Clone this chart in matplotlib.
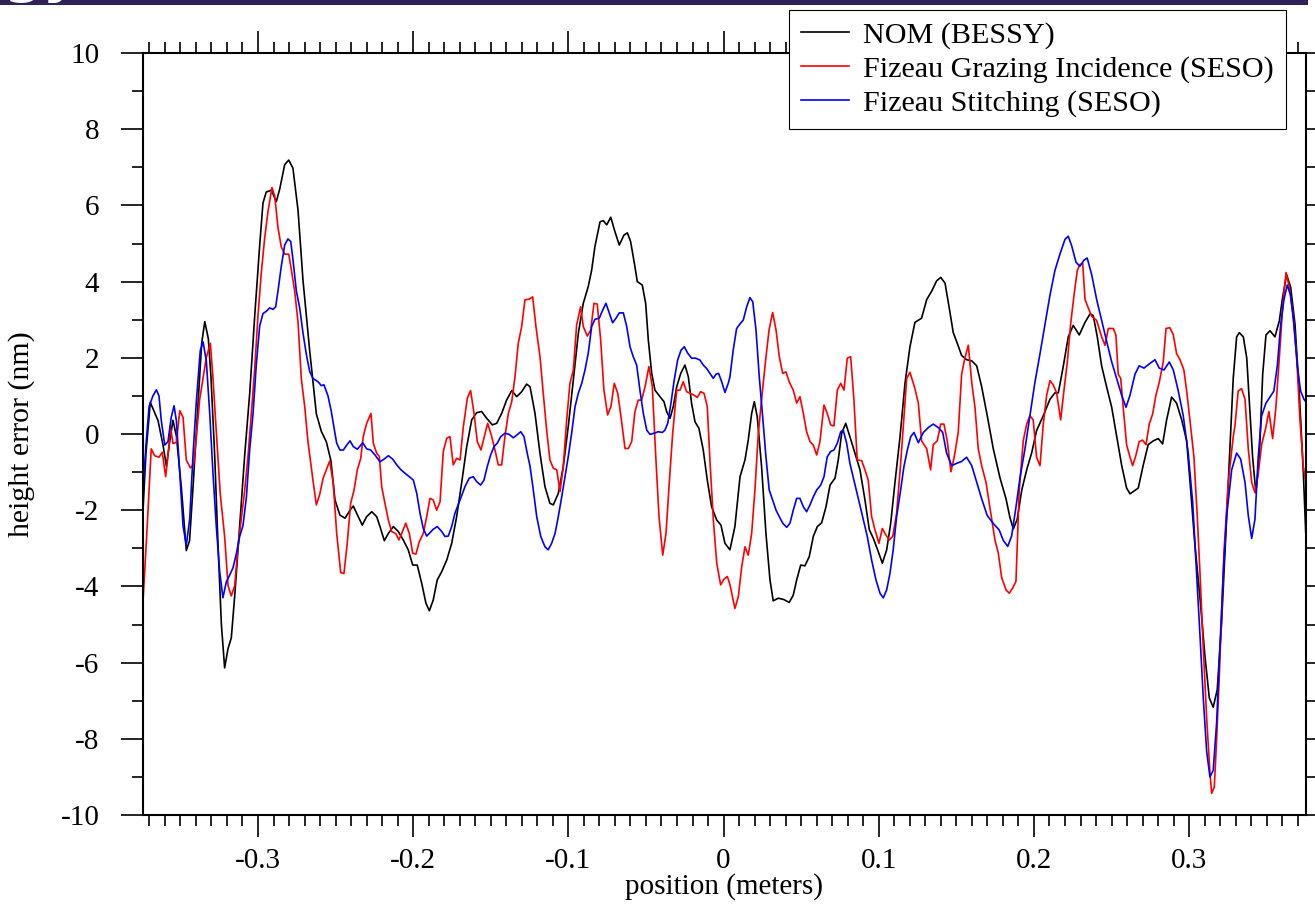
import matplotlib
matplotlib.use("Agg")
import matplotlib.pyplot as plt
from matplotlib.ticker import MultipleLocator, FuncFormatter
from matplotlib.patches import Rectangle

plt.rcParams['font.family'] = ['Liberation Serif', 'DejaVu Serif']
plt.rcParams['axes.unicode_minus'] = False

# NOM (BESSY) height profile
nom_x = [-0.3741, -0.3722, -0.3694, -0.3644, -0.3612, -0.3590, -0.3569, -0.3548, -0.3526, -0.3494,
         -0.3462, -0.3441, -0.3417, -0.3385, -0.3363, -0.3343, -0.3320, -0.3303, -0.3279, -0.3258,
         -0.3236, -0.3215, -0.3193, -0.3172, -0.3150, -0.3118, -0.3086, -0.3053, -0.3021, -0.2989,
         -0.2968, -0.2947, -0.2914, -0.2882, -0.2860, -0.2828, -0.2802, -0.2775, -0.2742, -0.2710,
         -0.2667, -0.2624, -0.2592, -0.2560, -0.2530, -0.2504, -0.2472, -0.2439, -0.2407, -0.2386,
         -0.2354, -0.2328, -0.2300, -0.2267, -0.2235, -0.2214, -0.2186, -0.2160, -0.2128, -0.2096,
         -0.2064, -0.2032, -0.2003, -0.1974, -0.1945, -0.1918, -0.1896, -0.1871, -0.1845, -0.1816,
         -0.1784, -0.1752, -0.1720, -0.1688, -0.1655, -0.1623, -0.1591, -0.1559, -0.1526, -0.1490,
         -0.1462, -0.1430, -0.1398, -0.1365, -0.1333, -0.1301, -0.1269, -0.1247, -0.1215, -0.1183,
         -0.1151, -0.1119, -0.1097, -0.1065, -0.1033, -0.1001, -0.0968, -0.0936, -0.0904, -0.0872,
         -0.0850, -0.0829, -0.0796, -0.0775, -0.0753, -0.0727, -0.0700, -0.0672, -0.0642, -0.0620,
         -0.0599, -0.0571, -0.0556, -0.0524, -0.0502, -0.0485, -0.0463, -0.0442, -0.0410, -0.0384,
         -0.0367, -0.0345, -0.0324, -0.0302, -0.0276, -0.0249, -0.0227, -0.0206, -0.0184, -0.0159,
         -0.0131, -0.0105, -0.0077, -0.0044, -0.0017, 0.0009, 0.0041, 0.0073, 0.0106, 0.0138,
         0.0159, 0.0181, 0.0198, 0.0217, 0.0245, 0.0273, 0.0299, 0.0320, 0.0352, 0.0385,
         0.0423, 0.0449, 0.0471, 0.0497, 0.0524, 0.0552, 0.0578, 0.0604, 0.0632, 0.0660,
         0.0686, 0.0718, 0.0739, 0.0761, 0.0787, 0.0814, 0.0847, 0.0879, 0.0911, 0.0939,
         0.0965, 0.0997, 0.1023, 0.1051, 0.1077, 0.1104, 0.1137, 0.1169, 0.1201, 0.1233,
         0.1276, 0.1309, 0.1341, 0.1373, 0.1399, 0.1427, 0.1454, 0.1480, 0.1506, 0.1534,
         0.1566, 0.1599, 0.1631, 0.1663, 0.1699, 0.1738, 0.1781, 0.1820, 0.1845, 0.1867,
         0.1892, 0.1921, 0.1953, 0.1985, 0.2017, 0.2060, 0.2103, 0.2135, 0.2157, 0.2189,
         0.2221, 0.2253, 0.2292, 0.2329, 0.2361, 0.2382, 0.2408, 0.2436, 0.2468, 0.2501,
         0.2533, 0.2565, 0.2597, 0.2619, 0.2651, 0.2672, 0.2704, 0.2736, 0.2769, 0.2801,
         0.2829, 0.2855, 0.2887, 0.2919, 0.2952, 0.2984, 0.3010, 0.3037, 0.3070, 0.3102,
         0.3130, 0.3155, 0.3181, 0.3209, 0.3237, 0.3263, 0.3284, 0.3306, 0.3323, 0.3349,
         0.3371, 0.3387, 0.3409, 0.3430, 0.3452, 0.3474, 0.3495, 0.3521, 0.3553, 0.3581,
         0.3602, 0.3628, 0.3654, 0.3682, 0.3709, 0.3735, 0.3751]
nom_h = [-2.00, -0.50, 0.83, 0.35, -0.29, -0.85, -0.20, 0.36, -0.05, -1.40,
         -3.06, -2.80, -1.29, 0.89, 2.38, 2.95, 2.50, 1.50, -0.57, -2.87,
         -4.99, -6.14, -5.63, -5.35, -4.25, -2.41, -0.57, 1.09, 3.11, 4.96,
         6.06, 6.35, 6.40, 6.10, 6.43, 7.07, 7.19, 6.98, 5.87, 4.03,
         2.19, 0.53, 0.07, -0.20, -0.70, -1.73, -2.13, -2.21, -2.00, -1.89,
         -2.17, -2.39, -2.17, -2.04, -2.17, -2.43, -2.80, -2.61, -2.43, -2.56,
         -2.78, -3.04, -3.44, -3.44, -3.92, -4.44, -4.64, -4.36, -3.83, -3.61,
         -3.31, -2.87, -2.17, -1.29, -0.33, 0.37, 0.56, 0.59, 0.41, 0.24,
         0.28, 0.54, 0.89, 1.14, 0.98, 1.11, 1.31, 1.24, 0.54, -0.51,
         -1.38, -1.82, -1.86, -1.56, -0.86, 0.19, 1.42, 2.64, 3.43, 3.87,
         4.30, 4.92, 5.57, 5.60, 5.49, 5.69, 5.31, 4.96, 5.22, 5.28,
         5.05, 4.39, 4.00, 3.91, 3.43, 2.47, 1.59, 1.15, 0.98, 0.85,
         0.59, 0.41, 0.72, 1.24, 1.59, 1.81, 1.50, 0.80, 0.32, 0.15,
         -0.42, -1.21, -1.91, -2.26, -2.39, -2.87, -3.04, -2.43, -1.12, -0.68,
         -0.16, 0.54, 0.85, 0.45, -0.86, -2.61, -3.83, -4.38, -4.31, -4.34,
         -4.42, -4.23, -3.83, -3.44, -3.46, -3.22, -2.69, -2.43, -2.33, -1.91,
         -1.34, -1.16, -0.68, 0.02, 0.28, -0.07, -0.51, -0.94, -1.73, -2.51,
         -2.74, -3.09, -3.39, -3.04, -2.34, -1.29, -0.07, 1.33, 2.29, 2.93,
         3.04, 3.53, 3.75, 4.02, 4.11, 3.96, 3.31, 2.66, 2.38, 2.06,
         1.95, 1.92, 1.79, 1.24, 0.48, -0.39, -1.15, -1.70, -2.19, -2.49,
         -2.24, -1.48, -0.94, -0.50, 0.09, 0.48, 0.91, 1.08, 1.08, 1.78,
         2.55, 2.85, 2.60, 2.93, 3.15, 3.11, 2.55, 1.79, 1.24, 0.70,
         -0.06, -0.82, -1.42, -1.57, -1.48, -1.42, -0.82, -0.28, -0.18, -0.12,
         -0.26, 0.37, 0.97, 0.81, 0.37, -0.18, -1.48, -2.90, -4.31, -5.84,
         -6.93, -7.17, -6.71, -4.97, -2.57, -0.39, 1.46, 2.55, 2.66, 2.55,
         2.00, 0.91, -0.61, -1.54, -0.61, 1.57, 2.60, 2.71, 2.55, 2.97,
         3.58, 4.18, 3.86, 2.88, 1.13, -0.94, -2.57]

# Fizeau grazing incidence (SESO) height profile
gi_x = [-0.3741, -0.3715, -0.3688, -0.3666, -0.3638, -0.3617, -0.3595, -0.3573, -0.3565, -0.3548,
        -0.3526, -0.3504, -0.3483, -0.3462, -0.3436, -0.3414, -0.3398, -0.3376, -0.3354, -0.3333,
        -0.3307, -0.3290, -0.3269, -0.3243, -0.3215, -0.3193, -0.3172, -0.3150, -0.3129, -0.3108,
        -0.3086, -0.3064, -0.3043, -0.3021, -0.3000, -0.2979, -0.2957, -0.2936, -0.2910, -0.2892,
        -0.2871, -0.2850, -0.2828, -0.2802, -0.2785, -0.2764, -0.2742, -0.2721, -0.2699, -0.2678,
        -0.2646, -0.2624, -0.2602, -0.2581, -0.2560, -0.2538, -0.2515, -0.2493, -0.2467, -0.2446,
        -0.2425, -0.2403, -0.2381, -0.2360, -0.2338, -0.2322, -0.2300, -0.2272, -0.2257, -0.2235,
        -0.2218, -0.2203, -0.2182, -0.2160, -0.2139, -0.2113, -0.2092, -0.2074, -0.2048, -0.2025,
        -0.2003, -0.1982, -0.1961, -0.1935, -0.1913, -0.1892, -0.1871, -0.1849, -0.1827, -0.1806,
        -0.1784, -0.1763, -0.1742, -0.1720, -0.1698, -0.1677, -0.1651, -0.1630, -0.1608, -0.1587,
        -0.1563, -0.1542, -0.1520, -0.1494, -0.1473, -0.1452, -0.1430, -0.1409, -0.1387, -0.1365,
        -0.1344, -0.1323, -0.1301, -0.1280, -0.1252, -0.1230, -0.1209, -0.1183, -0.1162, -0.1140,
        -0.1119, -0.1097, -0.1075, -0.1054, -0.1033, -0.1011, -0.0990, -0.0968, -0.0947, -0.0921,
        -0.0904, -0.0878, -0.0856, -0.0835, -0.0814, -0.0792, -0.0771, -0.0747, -0.0726, -0.0704,
        -0.0682, -0.0661, -0.0635, -0.0614, -0.0592, -0.0571, -0.0550, -0.0528, -0.0506, -0.0481,
        -0.0459, -0.0438, -0.0416, -0.0392, -0.0371, -0.0350, -0.0328, -0.0302, -0.0281, -0.0260,
        -0.0238, -0.0216, -0.0191, -0.0169, -0.0148, -0.0126, -0.0105, -0.0088, -0.0066, -0.0044,
        -0.0019, 0.0003, 0.0024, 0.0041, 0.0073, 0.0095, 0.0117, 0.0138, 0.0159, 0.0181,
        0.0202, 0.0224, 0.0249, 0.0271, 0.0293, 0.0316, 0.0338, 0.0359, 0.0381, 0.0402,
        0.0423, 0.0449, 0.0471, 0.0492, 0.0514, 0.0535, 0.0557, 0.0578, 0.0600, 0.0621,
        0.0647, 0.0668, 0.0690, 0.0711, 0.0733, 0.0755, 0.0776, 0.0797, 0.0819, 0.0840,
        0.0861, 0.0890, 0.0911, 0.0932, 0.0954, 0.0976, 0.1001, 0.1023, 0.1046, 0.1068,
        0.1090, 0.1115, 0.1141, 0.1162, 0.1180, 0.1201, 0.1233, 0.1255, 0.1276, 0.1309,
        0.1334, 0.1351, 0.1377, 0.1399, 0.1420, 0.1441, 0.1465, 0.1486, 0.1512, 0.1534,
        0.1555, 0.1577, 0.1599, 0.1620, 0.1641, 0.1663, 0.1691, 0.1716, 0.1749, 0.1770,
        0.1792, 0.1820, 0.1841, 0.1863, 0.1884, 0.1905, 0.1931, 0.1953, 0.1974, 0.1995,
        0.2017, 0.2039, 0.2060, 0.2082, 0.2103, 0.2124, 0.2146, 0.2172, 0.2193, 0.2215,
        0.2236, 0.2258, 0.2279, 0.2296, 0.2314, 0.2329, 0.2350, 0.2372, 0.2404, 0.2436,
        0.2458, 0.2479, 0.2511, 0.2528, 0.2543, 0.2559, 0.2575, 0.2597, 0.2619, 0.2636,
        0.2657, 0.2678, 0.2700, 0.2722, 0.2743, 0.2765, 0.2786, 0.2807, 0.2833, 0.2851,
        0.2876, 0.2898, 0.2919, 0.2941, 0.2966, 0.2984, 0.3005, 0.3031, 0.3052, 0.3070,
        0.3091, 0.3113, 0.3134, 0.3145, 0.3162, 0.3177, 0.3194, 0.3209, 0.3224, 0.3252,
        0.3284, 0.3295, 0.3316, 0.3338, 0.3360, 0.3381, 0.3403, 0.3424, 0.3445, 0.3467,
        0.3493, 0.3514, 0.3538, 0.3559, 0.3581, 0.3602, 0.3624, 0.3645, 0.3671, 0.3693,
        0.3714, 0.3735, 0.3751]
gi_h = [-4.40, -2.50, -0.39, -0.57, -0.61, -0.48, -1.12, -0.29, 0.21, -0.25,
        -0.22, 0.61, 0.44, -0.68, -0.89, -0.80, -0.11, 0.90, 1.46, 2.01,
        2.38, 1.46, 0.08, -1.58, -2.69, -3.98, -4.25, -3.98, -2.96, -2.23,
        -1.49, -0.57, 0.53, 1.73, 3.11, 4.22, 5.14, 5.83, 6.47, 6.24,
        5.41, 4.91, 4.72, 4.72, 4.31, 3.76, 2.93, 1.46, 0.72, -0.20,
        -1.21, -1.86, -1.58, -1.17, -0.94, -0.71, -1.29, -2.61, -3.64, -3.66,
        -2.87, -1.82, -1.47, -0.94, -0.64, -0.07, 0.28, 0.54, -0.24, -0.51,
        -0.59, -1.38, -1.82, -2.26, -2.56, -2.61, -2.78, -2.61, -2.34, -2.61,
        -3.13, -3.15, -2.83, -2.61, -2.17, -1.69, -1.73, -2.00, -1.78, -0.46,
        -0.11, -0.07, -0.81, -0.64, -0.68, 0.19, 0.94, 1.14, 0.54, -0.20,
        -0.42, -0.07, 0.28, -0.07, -0.42, -0.81, -0.81, -0.07, 0.54, 0.85,
        1.50, 2.38, 2.82, 3.52, 3.54, 3.60, 2.82, 2.03, 1.07, 0.10,
        -0.68, -0.90, -0.94, -1.51, -0.86, 0.37, 1.33, 1.68, 2.86, 3.34,
        2.82, 2.57, 2.73, 3.43, 3.41, 2.47, 1.15, 0.50, 0.72, 1.33,
        1.07, 0.45, -0.38, -0.38, -0.20, 0.59, 0.89, 0.89, 1.24, 1.77,
        1.24, -0.51, -2.17, -3.18, -2.61, -1.29, 0.02, 1.15, 1.15, 1.37,
        1.11, 1.07, 1.02, 0.96, 1.11, 1.07, 0.72, -0.68, -2.26, -3.39,
        -3.96, -3.81, -3.74, -3.95, -4.58, -4.27, -3.48, -2.96, -3.18, -2.61,
        -1.47, 0.02, 1.07, 1.94, 2.73, 3.19, 2.73, 2.03, 1.59, 1.63,
        1.37, 1.15, 0.81, 0.98, 0.54, 0.06, -0.20, -0.29, -0.55, -0.20,
        0.76, 0.54, 0.24, 0.21, 1.15, 1.33, 1.15, 1.99, 2.03, 0.89,
        -0.68, -0.70, -0.94, -1.21, -2.17, -2.52, -2.87, -2.48, -2.65, -2.78,
        -2.69, -2.08, -0.77, 0.45, 1.46, 1.62, 1.19, 0.81, -0.18, -0.39,
        -0.94, -0.28, -0.18, 0.26, 0.26, -0.18, -0.99, -0.61, 0.04, 1.57,
        2.00, 2.33, 1.35, 0.70, -0.39, -0.83, -1.27, -1.92, -2.79, -3.12,
        -3.77, -4.09, -4.18, -4.04, -3.87, -1.48, -0.18, 0.26, 0.48, 0.37,
        -0.61, -0.83, 0.26, 1.02, 1.40, 1.29, 1.08, 0.37, 1.13, 1.89,
        2.87, 3.64, 4.29, 4.45, 4.48, 3.53, 3.31, 3.09, 2.98, 2.55,
        2.33, 2.77, 2.77, 2.60, 1.57, 1.46, 0.70, -0.28, -0.61, -0.83,
        -0.56, -0.20, -0.16, -0.28, 0.26, 0.53, 1.02, 1.35, 1.89, 2.77,
        2.79, 2.60, 2.11, 1.95, 1.68, 1.13, 0.37, -0.61, -2.14, -3.66,
        -5.62, -7.47, -8.89, -9.43, -9.27, -8.02, -6.38, -4.75, -3.12, -1.27,
        -0.07, 0.21, 1.13, 1.19, 0.91, -0.39, -1.27, -1.54, -1.05, -0.28,
        0.15, 0.59, -0.12, 0.70, 2.00, 3.31, 4.24, 3.86, 3.09, 2.00,
        0.37, -0.83, -1.27]

# Fizeau stitching (SESO) height profile
st_x = [-0.3741, -0.3722, -0.3702, -0.3677, -0.3655, -0.3638, -0.3623, -0.3601, -0.3580, -0.3559,
        -0.3541, -0.3526, -0.3504, -0.3483, -0.3462, -0.3440, -0.3419, -0.3398, -0.3372, -0.3354,
        -0.3333, -0.3311, -0.3290, -0.3269, -0.3247, -0.3226, -0.3204, -0.3182, -0.3161, -0.3140,
        -0.3118, -0.3097, -0.3075, -0.3053, -0.3032, -0.3011, -0.2989, -0.2968, -0.2947, -0.2925,
        -0.2903, -0.2886, -0.2871, -0.2850, -0.2828, -0.2807, -0.2789, -0.2775, -0.2753, -0.2731,
        -0.2710, -0.2689, -0.2667, -0.2646, -0.2613, -0.2592, -0.2575, -0.2549, -0.2528, -0.2515,
        -0.2493, -0.2472, -0.2450, -0.2428, -0.2407, -0.2386, -0.2360, -0.2325, -0.2300, -0.2274,
        -0.2246, -0.2214, -0.2188, -0.2160, -0.2132, -0.2106, -0.2081, -0.2053, -0.2025, -0.1999,
        -0.1977, -0.1956, -0.1935, -0.1913, -0.1892, -0.1871, -0.1845, -0.1816, -0.1795, -0.1774,
        -0.1752, -0.1731, -0.1698, -0.1666, -0.1639, -0.1613, -0.1591, -0.1565, -0.1544, -0.1523,
        -0.1501, -0.1479, -0.1458, -0.1436, -0.1409, -0.1381, -0.1355, -0.1333, -0.1307, -0.1286,
        -0.1265, -0.1247, -0.1226, -0.1204, -0.1178, -0.1151, -0.1130, -0.1108, -0.1086, -0.1065,
        -0.1043, -0.1022, -0.1001, -0.0979, -0.0957, -0.0936, -0.0914, -0.0893, -0.0872, -0.0850,
        -0.0829, -0.0801, -0.0779, -0.0758, -0.0736, -0.0715, -0.0693, -0.0672, -0.0646, -0.0624,
        -0.0603, -0.0582, -0.0560, -0.0539, -0.0517, -0.0495, -0.0474, -0.0448, -0.0421, -0.0395,
        -0.0378, -0.0360, -0.0339, -0.0318, -0.0296, -0.0274, -0.0253, -0.0231, -0.0206, -0.0180,
        -0.0152, -0.0131, -0.0109, -0.0088, -0.0066, -0.0049, -0.0032, -0.0012, 0.0009, 0.0030,
        0.0041, 0.0062, 0.0084, 0.0106, 0.0127, 0.0149, 0.0170, 0.0188, 0.0209, 0.0230,
        0.0252, 0.0273, 0.0294, 0.0316, 0.0338, 0.0359, 0.0381, 0.0407, 0.0428, 0.0449,
        0.0471, 0.0492, 0.0514, 0.0535, 0.0557, 0.0578, 0.0600, 0.0626, 0.0647, 0.0668,
        0.0690, 0.0711, 0.0733, 0.0755, 0.0771, 0.0793, 0.0814, 0.0840, 0.0868, 0.0896,
        0.0926, 0.0954, 0.0982, 0.1008, 0.1029, 0.1051, 0.1072, 0.1093, 0.1115, 0.1141,
        0.1162, 0.1184, 0.1206, 0.1227, 0.1255, 0.1287, 0.1319, 0.1351, 0.1383, 0.1412,
        0.1437, 0.1470, 0.1502, 0.1534, 0.1566, 0.1599, 0.1631, 0.1663, 0.1699, 0.1738,
        0.1776, 0.1802, 0.1831, 0.1856, 0.1884, 0.1910, 0.1942, 0.1974, 0.2006, 0.2039,
        0.2071, 0.2103, 0.2135, 0.2168, 0.2200, 0.2221, 0.2243, 0.2271, 0.2296, 0.2322,
        0.2343, 0.2372, 0.2404, 0.2436, 0.2468, 0.2501, 0.2533, 0.2565, 0.2593, 0.2619,
        0.2651, 0.2678, 0.2709, 0.2743, 0.2780, 0.2807, 0.2838, 0.2872, 0.2898, 0.2930,
        0.2962, 0.2994, 0.3023, 0.3048, 0.3070, 0.3091, 0.3113, 0.3134, 0.3155, 0.3177,
        0.3198, 0.3220, 0.3242, 0.3274, 0.3306, 0.3332, 0.3360, 0.3381, 0.3403, 0.3424,
        0.3445, 0.3467, 0.3495, 0.3521, 0.3546, 0.3568, 0.3590, 0.3611, 0.3632, 0.3654,
        0.3675, 0.3697, 0.3718, 0.3740, 0.3751]
st_h = [-1.50, -0.30, 0.72, 1.00, 1.16, 1.00, 0.35, -0.29, -0.20, 0.44,
        0.74, 0.35, -1.03, -2.41, -2.92, -2.23, -0.57, 0.81, 2.19, 2.42,
        1.92, 0.53, -1.03, -2.41, -3.61, -4.30, -3.88, -3.70, -3.51, -3.15,
        -2.69, -2.41, -1.67, -0.39, 0.53, 1.82, 2.84, 3.16, 3.22, 3.31,
        3.27, 3.34, 3.76, 4.40, 4.96, 5.12, 5.05, 4.59, 3.76, 3.30,
        2.65, 2.10, 1.64, 1.46, 1.37, 1.27, 1.29, 1.00, 0.60, 0.28,
        -0.24, -0.42, -0.42, -0.29, -0.18, -0.33, -0.40, -0.23, -0.39, -0.42,
        -0.55, -0.73, -0.66, -0.57, -0.66, -0.81, -0.93, -1.03, -1.12, -1.21,
        -1.56, -2.08, -2.48, -2.68, -2.59, -2.50, -2.43, -2.56, -2.69, -2.68,
        -2.43, -2.08, -1.73, -1.38, -1.16, -1.12, -1.25, -1.34, -1.21, -0.86,
        -0.55, -0.33, -0.24, -0.07, 0.02, -0.01, -0.10, -0.03, 0.06, -0.07,
        -0.51, -0.85, -1.47, -2.17, -2.69, -2.96, -3.04, -2.87, -2.61, -2.17,
        -1.65, -1.12, -0.60, 0.02, 0.72, 1.07, 1.33, 1.68, 2.12, 2.82,
        3.01, 3.04, 3.25, 3.43, 3.17, 2.92, 3.04, 3.18, 3.18, 2.82,
        2.29, 2.03, 1.81, 1.15, 0.54, 0.10, -0.01, 0.02, 0.06, 0.04,
        0.10, 0.28, 0.81, 1.42, 1.94, 2.20, 2.29, 2.12, 1.99, 1.99,
        1.94, 1.81, 1.72, 1.59, 1.46, 1.57, 1.59, 1.37, 1.09, 1.33,
        1.50, 2.20, 2.77, 2.89, 2.99, 3.34, 3.58, 3.47, 2.73, 1.50,
        0.45, -0.60, -1.47, -1.73, -2.00, -2.17, -2.34, -2.45, -2.34, -2.00,
        -1.69, -1.69, -1.91, -2.04, -1.86, -1.65, -1.47, -1.34, -1.12, -0.60,
        -0.46, -0.42, -0.24, 0.06, 0.10, -0.24, -0.77, -1.21, -1.69, -2.17,
        -2.69, -3.31, -3.83, -4.18, -4.30, -4.09, -3.66, -3.04, -2.17, -1.47,
        -0.86, -0.42, -0.07, 0.04, -0.23, 0.04, 0.17, 0.26, 0.17, 0.04,
        -0.50, -0.83, -0.77, -0.72, -0.61, -0.83, -1.27, -1.70, -2.14, -2.35,
        -2.52, -2.79, -2.95, -2.68, -1.92, -1.15, -0.39, 0.48, 1.35, 2.11,
        2.88, 3.64, 4.29, 4.73, 5.11, 5.19, 4.94, 4.51, 4.40, 4.56,
        4.62, 4.18, 3.53, 2.98, 2.44, 1.89, 1.46, 1.02, 0.70, 1.02,
        1.57, 1.79, 1.73, 1.84, 1.95, 1.73, 1.68, 1.89, 1.68, 1.13,
        0.48, -0.50, -1.81, -3.66, -5.30, -6.93, -8.34, -9.00, -8.83, -7.58,
        -5.62, -3.66, -2.14, -0.94, -0.50, -0.66, -1.27, -2.14, -2.74, -2.24,
        -0.61, 0.48, 0.81, 0.97, 1.13, 1.79, 2.88, 3.53, 3.91, 3.64,
        2.88, 1.79, 1.13, 0.91, 0.85]

W, H = 1315, 906
fig = plt.figure(figsize=(W / 100, H / 100), dpi=100)

# header band across the top of the page, with the tail of its title
fig.patches.append(Rectangle((0, 1 - 5 / H), 1308 / W, 5 / H,
                             transform=fig.transFigure, facecolor='#30215b',
                             edgecolor='none', zorder=0))
fig.text(4 / W, 1 - 3 / H, 'gy', color='white', fontsize=40, fontweight='bold',
         family=['DejaVu Sans'], ha='left', va='bottom')

ax = fig.add_axes([143 / W, 91 / H, (1305.7 - 143) / W, 762 / H])

ax.plot(nom_x, nom_h, color='black', lw=1.2, label='NOM (BESSY)')
ax.plot(gi_x, gi_h, color='#ff0000', lw=1.2, label='Fizeau Grazing Incidence (SESO)')
ax.plot(st_x, st_h, color='#0000ff', lw=1.2, label='Fizeau Stitching (SESO)')

ax.set_xlim(-0.3741, 0.3751)
ax.set_ylim(-10, 10)

ax.xaxis.set_major_locator(MultipleLocator(0.1))
ax.xaxis.set_minor_locator(MultipleLocator(0.01))
ax.yaxis.set_major_locator(MultipleLocator(2))
ax.yaxis.set_minor_locator(MultipleLocator(1))
ax.xaxis.set_major_formatter(FuncFormatter(lambda v, p: '0' if abs(v) < 1e-9 else f'{v:.1f}'))
ax.yaxis.set_major_formatter(FuncFormatter(lambda v, p: f'{v:.0f}'))

for s in ax.spines.values():
    s.set_linewidth(1.5)

ax.tick_params(axis='both', which='both', direction='out', width=1.2,
               top=True, right=True, labeltop=False, labelright=False, colors='black')
ax.tick_params(axis='x', which='major', length=15.5, pad=8, labelsize=21)
ax.tick_params(axis='x', which='minor', length=8)
ax.tick_params(axis='y', which='major', length=15.5, pad=16, labelsize=21)
ax.tick_params(axis='y', which='minor', length=8)

fig.text(724 / W, 1 - 887 / H, 'position (meters)', ha='center', va='center', fontsize=21)
fig.text(22 / W, 1 - 434 / H, 'height error (nm)', ha='center', va='center',
         rotation=90, fontsize=21.5)

leg = ax.legend(loc='upper right', bbox_to_anchor=(1285.5 / W, 1 - 9.5 / H),
                bbox_transform=fig.transFigure, frameon=True, fancybox=False,
                edgecolor='black', framealpha=1, borderaxespad=0, fontsize=21.7,
                handlelength=1.6, handletextpad=0.45, borderpad=0.4, labelspacing=0.22)
leg.get_frame().set_linewidth(0.8)

fig.savefig('out.png', dpi=100)
